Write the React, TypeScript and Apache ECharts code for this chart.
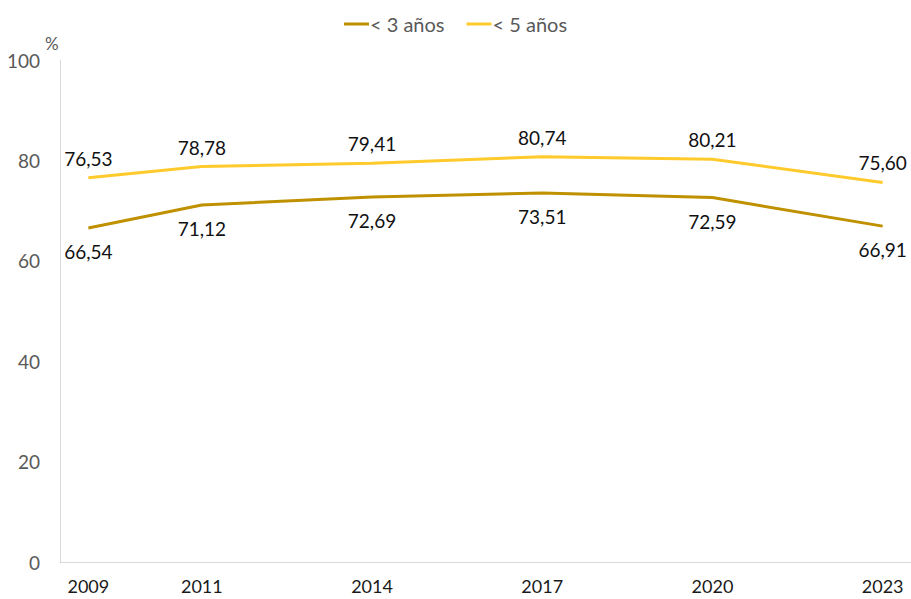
import React, { useEffect, useRef } from "react";
import * as echarts from "echarts";

const years = [2009, 2011, 2014, 2017, 2020, 2023];
const under3 = [66.54, 71.12, 72.69, 73.51, 72.59, 66.91];
const under5 = [76.53, 78.78, 79.41, 80.74, 80.21, 75.6];
const seriesNames = ["< 3 años", "< 5 años"];
const yTicks = [0, 20, 40, 60, 80, 100];

const FONT = "Lato, 'Noto Sans', sans-serif";
const fmt = (v: number) => v.toFixed(2).replace(".", ",");

export default function App() {
  const ref = useRef<HTMLDivElement>(null);
  useEffect(() => {
    if (!ref.current) return;
    const chart = echarts.init(ref.current, undefined, { renderer: "svg" });
    const mk = (vals: number[]) => years.map((y, i) => [y, vals[i]]);
    chart.setOption({
      animation: false,
      backgroundColor: "#ffffff",
      textStyle: { fontFamily: FONT },
      legend: {
        top: 9,
        left: "center",
        icon: "rect",
        itemWidth: 25,
        itemHeight: 3,
        itemGap: 22,
        textStyle: { color: "#595959", fontSize: 20, fontFamily: FONT, padding: [0, 0, 0, -4] },
        data: seriesNames,
      },
      grid: { left: 60, right: 0, top: 60, bottom: 37, containLabel: false },
      graphic: [
        {
          type: "text",
          left: 45,
          top: 35,
          style: { text: "%", fill: "#595959", font: `17px ${FONT}` },
        },
      ],
      xAxis: {
        type: "value",
        min: 2008.5,
        max: 2023.5,
        splitLine: { show: false },
        axisTick: { show: false },
        axisLine: { show: true, lineStyle: { color: "#d9d9d9", width: 1 } },
        axisLabel: {
          customValues: years,
          formatter: (v: number) => String(v),
          color: "#1a1a1a",
          fontSize: 18,
          fontFamily: FONT,
          margin: 15,
        },
      },
      yAxis: {
        type: "value",
        min: 0,
        max: 100,
        interval: 20,
        splitLine: { show: false },
        axisTick: { show: false },
        axisLine: { show: true, lineStyle: { color: "#d9d9d9", width: 1 } },
        axisLabel: {
          customValues: yTicks,
          color: "#595959",
          fontSize: 19,
          fontFamily: FONT,
          margin: 20,
        },
      },
      series: [
        {
          name: seriesNames[0],
          type: "line",
          data: mk(under3),
          symbol: "circle",
          symbolSize: 0.01,
          showSymbol: true,
          lineStyle: { color: "#BF9000", width: 3 },
          itemStyle: { color: "#BF9000" },
          label: {
            show: true,
            position: "bottom",
            distance: 14,
            formatter: (p: any) => fmt(p.value[1]),
            color: "#111111",
            fontSize: 19,
            fontFamily: FONT,
          },
        },
        {
          name: seriesNames[1],
          type: "line",
          data: mk(under5),
          symbol: "circle",
          symbolSize: 0.01,
          showSymbol: true,
          lineStyle: { color: "#FFCA2C", width: 3 },
          itemStyle: { color: "#FFCA2C" },
          label: {
            show: true,
            position: "top",
            distance: 10,
            formatter: (p: any) => fmt(p.value[1]),
            color: "#111111",
            fontSize: 19,
            fontFamily: FONT,
          },
        },
      ],
    });
    return () => chart.dispose();
  }, []);
  return (
    <div
      ref={ref}
      style={{ position: "absolute", left: 0, top: 0, width: 911, height: 599 }}
    />
  );
}
